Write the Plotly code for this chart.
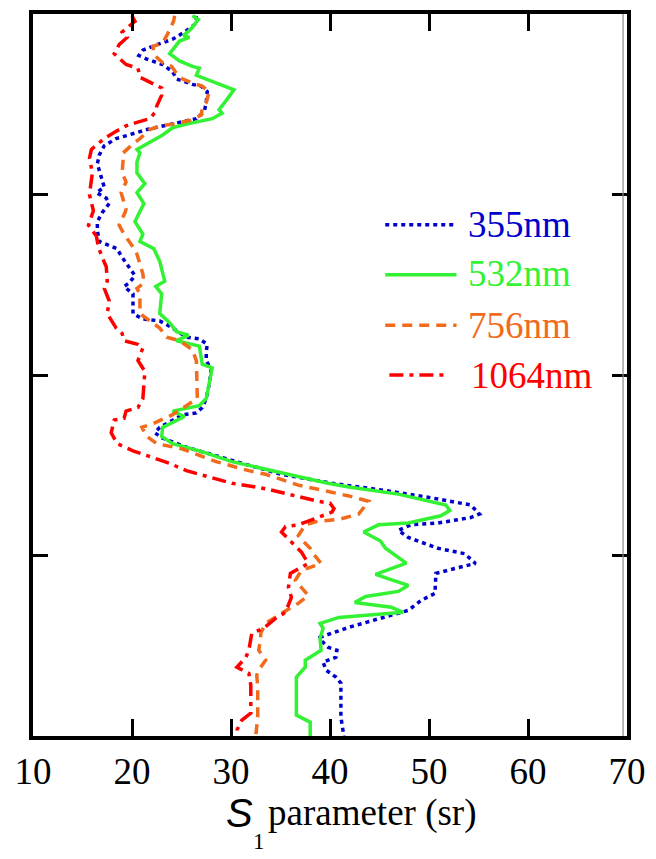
import plotly.graph_objects as go

# S1 (lidar ratio) profiles, sr, versus height, km
s_355 = [26.5, 26.3, 25.3, 24.1, 22.5, 21.1, 20.7, 21.5, 23.1, 24.1, 24.5, 26.1, 27.0, 27.6, 27.5,
         27.3, 26.5, 24.8, 23.1, 21.5, 19.7, 18.4, 17.2, 16.7, 16.5, 16.9, 17.2, 16.4, 17.4, 17.7,
         17.0, 16.5, 16.5, 16.7, 17.5, 18.5, 18.9, 19.5, 20.3, 19.7, 19.2, 20.1, 20.1, 20.1, 21.1,
         22.8, 24.1, 25.5, 26.8, 27.6, 27.5, 27.5, 28.0, 27.8, 27.5, 27.1, 26.5, 25.1, 23.8, 22.8,
         22.3, 23.1, 25.5, 28.5, 31.8, 35.1, 40.2, 45.6, 50.2, 54.2, 55.1, 54.2, 50.9, 48.2, 46.9,
         47.9, 50.9, 53.6, 54.7, 52.6, 50.7, 50.6, 49.2, 47.9, 45.2, 41.9, 39.0, 39.1, 39.8, 40.7,
         40.6, 39.3, 39.6, 40.6, 41.1, 41.1, 41.4]
h_355 = [3.99, 3.94, 3.90, 3.86, 3.83, 3.80, 3.77, 3.75, 3.72, 3.68, 3.64, 3.61, 3.60, 3.57, 3.51,
         3.46, 3.42, 3.40, 3.38, 3.36, 3.33, 3.31, 3.27, 3.22, 3.17, 3.09, 3.04, 3.01, 2.98, 2.95,
         2.90, 2.85, 2.80, 2.74, 2.72, 2.70, 2.66, 2.61, 2.55, 2.51, 2.49, 2.45, 2.39, 2.34, 2.31,
         2.30, 2.26, 2.21, 2.20, 2.17, 2.13, 2.08, 2.03, 1.95, 1.87, 1.82, 1.79, 1.78, 1.74, 1.71,
         1.68, 1.65, 1.60, 1.55, 1.50, 1.45, 1.40, 1.36, 1.32, 1.28, 1.23, 1.21, 1.18, 1.17, 1.14,
         1.10, 1.04, 1.01, 0.956, 0.928, 0.901, 0.790, 0.751, 0.696, 0.652, 0.602, 0.547, 0.530, 0.492, 0.475,
         0.436, 0.409, 0.365, 0.326, 0.293, 0.105, 0.0]

s_532 = [26.1, 26.7, 26.0, 25.2, 25.8, 24.8, 23.8, 24.8, 26.1, 26.8, 26.5, 27.5, 29.8, 30.3, 29.5,
         28.8, 29.1, 28.1, 25.5, 24.1, 23.1, 21.8, 20.5, 20.8, 20.5, 20.5, 21.3, 20.5, 21.2, 20.3,
         21.1, 20.8, 22.2, 22.8, 23.3, 22.4, 23.0, 22.8, 23.8, 24.5, 25.7, 24.5, 26.8, 27.1, 28.1,
         27.5, 26.8, 24.1, 25.3, 23.1, 23.0, 24.1, 26.8, 30.1, 35.1, 39.8, 41.9, 46.9, 51.7, 52.1,
         51.2, 47.9, 44.9, 43.4, 45.1, 45.6, 47.7, 44.6, 47.9, 46.9, 43.6, 42.5, 46.2, 47.4, 40.9,
         39.0, 39.3, 39.0, 39.1, 37.5, 37.5, 36.6, 36.6, 38.0, 38.0]
h_532 = [3.99, 3.97, 3.92, 3.88, 3.87, 3.85, 3.78, 3.74, 3.71, 3.70, 3.66, 3.64, 3.59, 3.58, 3.52,
         3.47, 3.45, 3.42, 3.39, 3.37, 3.33, 3.29, 3.25, 3.23, 3.18, 3.12, 3.06, 3.01, 2.95, 2.85,
         2.78, 2.74, 2.70, 2.63, 2.52, 2.49, 2.45, 2.34, 2.29, 2.24, 2.22, 2.19, 2.16, 2.06, 2.04,
         1.87, 1.83, 1.80, 1.77, 1.71, 1.66, 1.62, 1.58, 1.52, 1.46, 1.40, 1.38, 1.34, 1.28, 1.25,
         1.22, 1.18, 1.17, 1.13, 1.08, 1.04, 0.958, 0.895, 0.834, 0.801, 0.773, 0.740, 0.713, 0.685, 0.657,
         0.624, 0.597, 0.541, 0.475, 0.420, 0.381, 0.326, 0.116, 0.077, 0.0]

s_756 = [24.3, 24.2, 23.6, 23.1, 22.1, 22.3, 23.1, 24.0, 24.5, 25.1, 26.5, 27.1, 27.8, 27.5, 27.1,
         27.0, 25.8, 24.1, 22.8, 21.8, 20.8, 20.1, 19.1, 19.1, 19.0, 19.4, 18.9, 19.4, 19.3, 18.7,
         19.2, 20.1, 20.5, 21.1, 21.2, 20.5, 20.8, 20.8, 21.8, 22.8, 23.5, 24.8, 26.1, 26.5, 26.6,
         25.5, 24.1, 22.1, 21.0, 21.5, 22.5, 25.1, 28.5, 31.8, 33.5, 36.8, 41.9, 43.9, 42.9, 40.9,
         38.8, 37.5, 36.8, 37.1, 38.0, 38.3, 39.1, 37.1, 36.5, 37.8, 36.8, 36.1, 34.8, 33.5, 33.0,
         33.0, 32.8, 33.5, 32.8, 32.6, 32.7, 32.7, 32.5]
h_756 = [3.99, 3.96, 3.89, 3.84, 3.82, 3.77, 3.73, 3.71, 3.67, 3.64, 3.61, 3.60, 3.57, 3.51, 3.48,
         3.44, 3.41, 3.39, 3.38, 3.36, 3.31, 3.28, 3.23, 3.19, 3.12, 3.07, 3.01, 2.92, 2.90, 2.83,
         2.78, 2.71, 2.67, 2.56, 2.51, 2.48, 2.45, 2.34, 2.30, 2.26, 2.21, 2.19, 2.14, 2.08, 1.87,
         1.83, 1.78, 1.73, 1.71, 1.66, 1.62, 1.59, 1.52, 1.47, 1.45, 1.39, 1.33, 1.30, 1.23, 1.20,
         1.19, 1.17, 1.11, 1.09, 1.04, 1.01, 0.956, 0.917, 0.862, 0.779, 0.735, 0.713, 0.669, 0.624, 0.569,
         0.541, 0.475, 0.420, 0.365, 0.337, 0.271, 0.105, 0.0]

s_1064 = [20.0, 20.3, 19.0, 19.5, 18.7, 18.2, 19.4, 20.6, 20.8, 22.0, 23.0, 23.0, 22.5, 22.4, 21.8,
          20.5, 19.4, 18.4, 17.2, 15.9, 15.7, 16.0, 15.7, 16.1, 15.6, 16.4, 16.6, 17.0, 17.4, 17.5,
          17.2, 17.7, 17.5, 18.4, 19.0, 19.2, 20.6, 21.1, 20.6, 21.3, 21.1, 20.6, 19.4, 19.2, 18.2,
          17.9, 18.5, 20.1, 22.1, 23.8, 25.5, 27.5, 30.1, 33.5, 37.1, 38.8, 40.0, 40.4, 40.2, 38.8,
          36.8, 35.5, 35.1, 36.0, 37.1, 37.8, 37.1, 36.0, 35.8, 36.1, 35.5, 34.5, 33.3, 32.1, 31.8,
          31.5, 30.6, 31.8, 32.0, 32.0, 32.0, 31.1, 30.6, 30.6]
h_1064 = [3.99, 3.96, 3.90, 3.87, 3.83, 3.78, 3.72, 3.70, 3.65, 3.62, 3.59, 3.55, 3.49, 3.46, 3.42,
          3.40, 3.38, 3.35, 3.31, 3.25, 3.20, 3.12, 3.00, 2.91, 2.83, 2.77, 2.71, 2.65, 2.60, 2.52,
          2.48, 2.41, 2.34, 2.26, 2.23, 2.19, 2.17, 2.15, 2.08, 2.02, 1.87, 1.82, 1.80, 1.76, 1.75,
          1.68, 1.62, 1.58, 1.54, 1.51, 1.47, 1.44, 1.40, 1.37, 1.32, 1.30, 1.29, 1.26, 1.24, 1.21,
          1.17, 1.16, 1.13, 1.08, 1.02, 0.956, 0.934, 0.901, 0.823, 0.768, 0.685, 0.652, 0.597, 0.569, 0.475,
          0.436, 0.381, 0.348, 0.282, 0.199, 0.127, 0.088, 0.033, 0.0]

x_ticks = [10, 20, 30, 40, 50, 60, 70]
y_ticks = [0, 1, 2, 3, 4]

SERIF = "Liberation Serif, Times New Roman, DejaVu Serif, serif"
SANS = "Liberation Sans, Arial, DejaVu Sans, sans-serif"

series = [
    ("355nm", s_355, h_355, "#0000CC", "4px,4px"),
    ("532nm", s_532, h_532, "#33F233", "solid"),
    ("756nm", s_756, h_756, "#F26A1B", "10px,7px"),
    ("1064nm", s_1064, h_1064, "#FF0000", "14px,6px,4px,6px"),
]

fig = go.Figure()
for name, s, h, color, dash in series:
    fig.add_trace(go.Scatter(x=s, y=h, mode="lines", name=name,
                             line=dict(color=color, width=3.5, dash=dash),
                             showlegend=False))

# hand-drawn legend block (long line samples with coloured labels)
legend_rows = [(0.708, 0.593, 0.713, 0.708, 0.729),
               (0.639, 0.593, 0.713, 0.640, 0.729),
               (0.569, 0.593, 0.713, 0.569, 0.729),
               (0.500, 0.600, 0.699, 0.500, 0.734)]
for (name, s, h, color, dash), (ly, lx0, lx1, ty, tx) in zip(series, legend_rows):
    fig.add_shape(type="line", xref="paper", yref="paper", x0=lx0, x1=lx1, y0=ly, y1=ly,
                  line=dict(color=color, width=3.5, dash=dash))
    fig.add_annotation(xref="paper", yref="paper", x=tx, y=ty, text=name, showarrow=False,
                       xanchor="left", yanchor="middle",
                       font=dict(family=SERIF, size=37, color=color))

# thin inner rule beside the right frame
fig.add_shape(type="line", xref="x", yref="paper", x0=69.6, x1=69.6, y0=0, y1=1,
              line=dict(color="#888888", width=1.2))

# axis title: italic sans S with a low subscript 1
fig.add_annotation(xref="paper", yref="paper", x=0.322, y=-0.107, text="<i>S</i>",
                   showarrow=False, xanchor="left", yanchor="middle",
                   font=dict(family=SANS, size=40, color="black"))
fig.add_annotation(xref="paper", yref="paper", x=0.367, y=-0.166, text="1",
                   showarrow=False, xanchor="left", yanchor="bottom",
                   font=dict(family=SERIF, size=23, color="black"))
fig.add_annotation(xref="paper", yref="paper", x=0.393, y=-0.107, text="parameter (sr)",
                   showarrow=False, xanchor="left", yanchor="middle",
                   font=dict(family=SERIF, size=37, color="black"))

fig.update_xaxes(range=[10, 70], tickvals=x_ticks, ticktext=[str(v) for v in x_ticks],
                 ticks="inside", ticklen=17, tickwidth=3, tickcolor="black",
                 showline=True, linewidth=4, linecolor="black", mirror="ticks",
                 showgrid=False, zeroline=False,
                 tickfont=dict(family=SERIF, size=37, color="black"))
fig.update_yaxes(range=[0, 4], tickvals=y_ticks, showticklabels=False,
                 ticks="inside", ticklen=15, tickwidth=3, tickcolor="black",
                 showline=True, linewidth=4, linecolor="black", mirror="ticks",
                 showgrid=False, zeroline=False)

fig.update_layout(width=656, height=859, margin=dict(l=33, r=28, t=10, b=123),
                  plot_bgcolor="white", paper_bgcolor="white",
                  font=dict(family=SERIF, color="black"))

fig.write_html("out.html")
